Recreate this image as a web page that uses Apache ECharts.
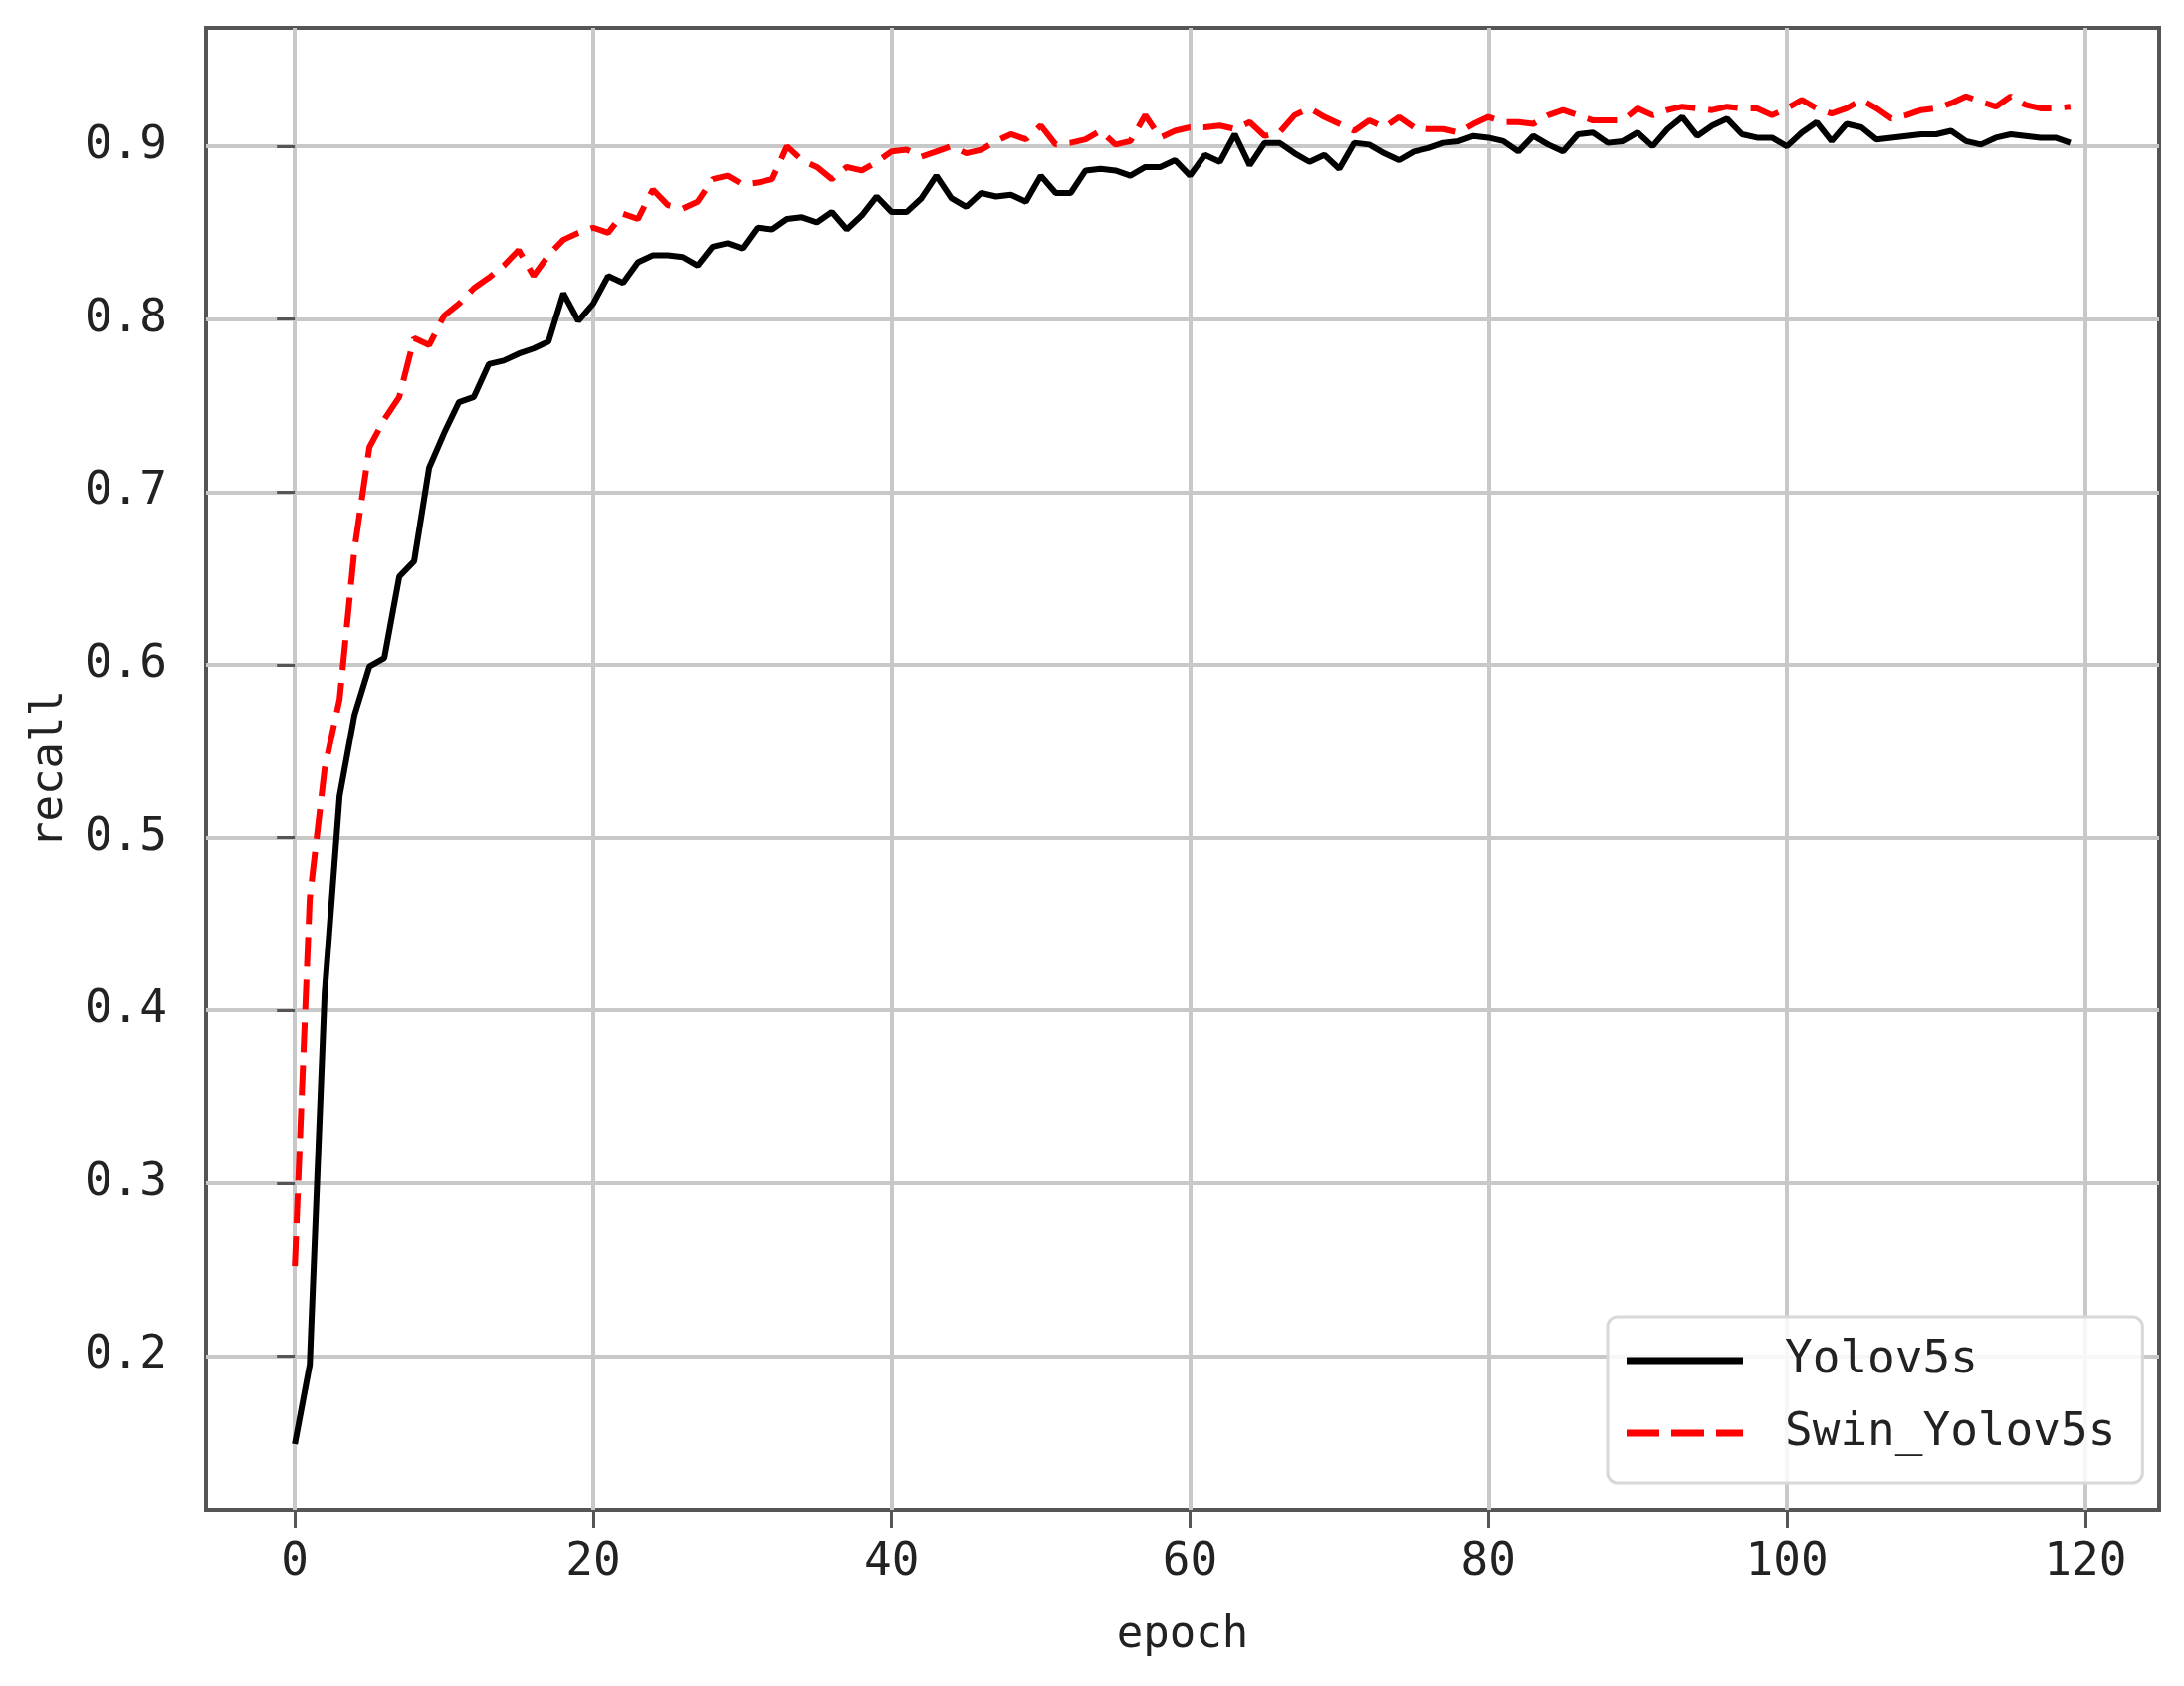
<!DOCTYPE html>
<html>
<head>
<meta charset="utf-8">
<script src="https://cdn.jsdelivr.net/npm/echarts@6/dist/echarts.min.js"></script>
<style>
  html, body { margin: 0; padding: 0; background: #fff; }
  #chart { width: 2194px; height: 1694px; }
</style>
</head>
<body>
<div id="chart"></div>
<script>
// recall per epoch
var yolov5s = [
  0.149, 0.195, 0.410, 0.524, 0.571, 0.599, 0.604, 0.651, 0.660, 0.714,
  0.734, 0.752, 0.755, 0.774, 0.776, 0.780, 0.783, 0.787, 0.815, 0.799,
  0.809, 0.825, 0.821, 0.833, 0.837, 0.837, 0.836, 0.831, 0.842, 0.844,
  0.841, 0.853, 0.852, 0.858, 0.859, 0.856, 0.862, 0.852, 0.860, 0.871,
  0.862, 0.862, 0.870, 0.883, 0.870, 0.865, 0.873, 0.871, 0.872, 0.868,
  0.883, 0.873, 0.873, 0.886, 0.887, 0.886, 0.883, 0.888, 0.888, 0.892,
  0.883, 0.895, 0.891, 0.907, 0.889, 0.902, 0.902, 0.896, 0.891, 0.895,
  0.887, 0.902, 0.901, 0.896, 0.892, 0.897, 0.899, 0.902, 0.903, 0.906,
  0.905, 0.903, 0.897, 0.906, 0.901, 0.897, 0.907, 0.908, 0.902, 0.903,
  0.908, 0.900, 0.910, 0.917, 0.906, 0.912, 0.916, 0.907, 0.905, 0.905,
  0.900, 0.908, 0.914, 0.903, 0.913, 0.911, 0.904, 0.905, 0.906, 0.907,
  0.907, 0.909, 0.903, 0.901, 0.905, 0.907, 0.906, 0.905, 0.905, 0.902
];

var swinYolov5s = [
  0.252, 0.465, 0.540, 0.580, 0.667, 0.726, 0.742, 0.755, 0.789, 0.785,
  0.802, 0.809, 0.818, 0.824, 0.831, 0.840, 0.825, 0.837, 0.846, 0.850,
  0.853, 0.850, 0.861, 0.858, 0.875, 0.866, 0.864, 0.868, 0.881, 0.883,
  0.878, 0.879, 0.881, 0.900, 0.892, 0.888, 0.881, 0.888, 0.886, 0.891,
  0.897, 0.898, 0.894, 0.897, 0.900, 0.896, 0.898, 0.903, 0.907, 0.904,
  0.912, 0.901, 0.902, 0.904, 0.909, 0.901, 0.903, 0.918, 0.905, 0.909,
  0.911, 0.911, 0.912, 0.910, 0.914, 0.906, 0.908, 0.918, 0.922, 0.917,
  0.913, 0.909, 0.915, 0.911, 0.917, 0.911, 0.910, 0.910, 0.908, 0.913,
  0.917, 0.914, 0.914, 0.913, 0.918, 0.921, 0.918, 0.915, 0.915, 0.915,
  0.922, 0.918, 0.921, 0.923, 0.922, 0.921, 0.923, 0.922, 0.922, 0.918,
  0.922, 0.927, 0.922, 0.919, 0.922, 0.927, 0.922, 0.916, 0.918, 0.921,
  0.922, 0.925, 0.929, 0.926, 0.923, 0.929, 0.924, 0.922, 0.922, 0.923
];

var xTicks = [0, 20, 40, 60, 80, 100, 120];
var yTicks = [0.2, 0.3, 0.4, 0.5, 0.6, 0.7, 0.8, 0.9];

var FONT = 'DejaVu Sans Mono';
var TEXT = '#222';
var FRAME = '#555';
var GRID = '#c8c8c8';

function pairs(values) {
  return values.map(function (v, i) { return [i, v]; });
}

var chart = echarts.init(document.getElementById('chart'), null, { renderer: 'canvas' });

var option = {
  animation: false,
  backgroundColor: '#fff',
  grid: {
    left: 207,
    right: 25,
    top: 28,
    bottom: 177,
    show: true,
    borderColor: FRAME,
    borderWidth: 4,
    backgroundColor: 'transparent'
  },
  legend: {
    orient: 'vertical',
    left: 1615,
    top: 1323,
    padding: [19, 27, 25, 19],
    itemWidth: 117,
    itemHeight: 7,
    itemGap: 23,
    borderColor: '#d8d8d8',
    borderWidth: 3,
    borderRadius: 10,
    backgroundColor: 'rgba(255,255,255,0.85)',
    textStyle: {
      fontFamily: FONT,
      fontSize: 46,
      color: TEXT,
      lineHeight: 50,
      padding: [0, 0, 0, 37]
    },
    data: [
      {
        name: 'Yolov5s',
        icon: 'rect',
        itemStyle: { color: '#000', borderWidth: 0 },
        lineStyle: { width: 0 }
      },
      {
        name: 'Swin_Yolov5s',
        icon: 'path://M0 0H33V7H0Z M45 0H78V7H45Z M90 0H117V7H90Z',
        itemStyle: { color: '#ff0000', borderWidth: 0 },
        lineStyle: { width: 0 }
      }
    ]
  },
  xAxis: {
    type: 'value',
    min: -5.95,
    max: 124.95,
    name: 'epoch',
    nameLocation: 'middle',
    nameGap: 105,
    nameTextStyle: { fontFamily: FONT, fontSize: 44, color: TEXT },
    axisLine: { show: false },
    axisTick: {
      show: true,
      length: 18,
      lineStyle: { color: FRAME, width: 3 },
      customValues: xTicks
    },
    axisLabel: {
      fontFamily: FONT,
      fontSize: 46,
      color: TEXT,
      margin: 30,
      customValues: xTicks
    },
    splitLine: { show: true, lineStyle: { color: GRID, width: 4 } }
  },
  yAxis: {
    type: 'value',
    min: 0.111,
    max: 0.9686,
    name: 'recall',
    nameLocation: 'middle',
    nameGap: 134,
    nameTextStyle: { fontFamily: FONT, fontSize: 44, color: TEXT },
    axisLine: { show: false },
    axisTick: {
      show: true,
      length: 18,
      lineStyle: { color: FRAME, width: 3 },
      customValues: yTicks
    },
    axisLabel: {
      fontFamily: FONT,
      fontSize: 46,
      color: TEXT,
      margin: 39,
      customValues: yTicks,
      formatter: function (v) { return v.toFixed(1); }
    },
    splitLine: { show: true, lineStyle: { color: GRID, width: 4 } }
  },
  series: [
    {
      name: 'Yolov5s',
      type: 'line',
      symbol: 'none',
      z: 3,
      lineStyle: { color: '#000', width: 6 },
      itemStyle: { color: '#000' },
      data: pairs(yolov5s)
    },
    {
      name: 'Swin_Yolov5s',
      type: 'line',
      symbol: 'none',
      z: 4,
      lineStyle: { color: '#ff0000', width: 6, type: [30, 13] },
      itemStyle: { color: '#ff0000' },
      data: pairs(swinYolov5s)
    }
  ]
};

chart.setOption(option);
</script>
</body>
</html>
